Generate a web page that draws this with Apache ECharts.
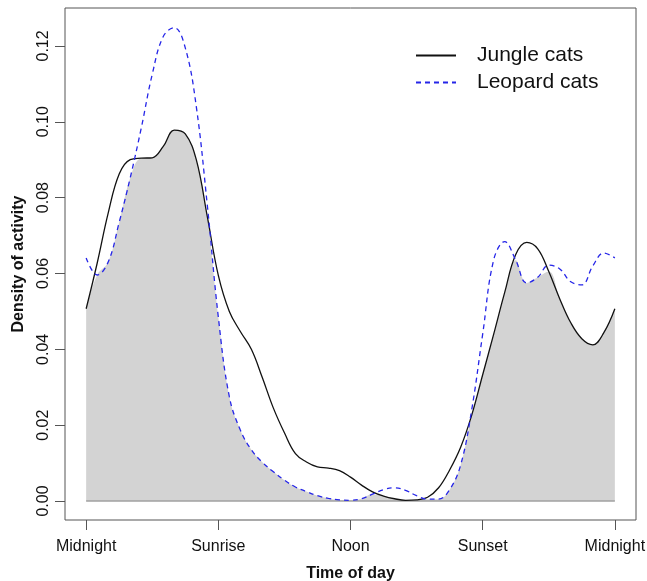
<!DOCTYPE html>
<html>
<head>
<meta charset="utf-8">
<script src="https://cdn.jsdelivr.net/npm/echarts@6/dist/echarts.min.js"></script>
<style>
html,body{margin:0;padding:0;background:#fff;}
#chart{width:647px;height:581px;}
</style>
</head>
<body>
<div id="chart"></div>
<script>
// Time of day in hours (0 = midnight, 24 = midnight)
const hours = [0,0.5,1,1.5,2,2.5,3,3.5,4,4.5,5,5.5,6,6.5,7,7.5,8,8.5,9,9.5,10,10.5,11,11.5,12,
  12.5,13,13.5,14,14.5,15,15.5,16,16.5,17,17.5,18,18.5,19,19.5,20,20.5,21,21.5,22,22.5,23,23.5,24];
const jungleCats = [0.0507,0.0627,0.0759,0.0862,0.0900,0.0904,0.0905,0.0935,0.0978,0.0968,0.0900,0.0750,0.0595,0.0500,0.0447,0.0400,0.0325,0.0245,0.0180,0.0125,0.0103,0.0090,0.0087,0.0080,0.0063,
  0.0042,0.0024,0.0013,0.0006,0.0002,0.0003,0.0010,0.0035,0.0082,0.0142,0.0226,0.0333,0.0440,0.0550,0.0650,0.0682,0.0665,0.0605,0.0533,0.0470,0.0428,0.0412,0.0444,0.0507];
const leopardCats = [0.0641,0.0596,0.0630,0.0735,0.0852,0.0983,0.1125,0.1225,0.1248,0.1195,0.1040,0.0780,0.0485,0.0275,0.0187,0.0135,0.0102,0.0077,0.0055,0.0037,0.0025,0.0014,0.0007,0.0003,0.0002,
  0.0006,0.0018,0.0030,0.0035,0.0028,0.0014,0.0005,0.0005,0.0030,0.0095,0.0240,0.0440,0.0636,0.0684,0.0635,0.0575,0.0590,0.0622,0.0612,0.0578,0.0570,0.0620,0.0654,0.0641];
const xTickValues = [0,6,12,18,24];
const xTickLabels = ['Midnight','Sunrise','Noon','Sunset','Midnight'];
const yTickValues = [0,0.02,0.04,0.06,0.08,0.10,0.12];

const overlap = hours.map((h,i)=>[h, Math.min(jungleCats[i], leopardCats[i])]);
const jData = hours.map((h,i)=>[h, jungleCats[i]]);
const lData = hours.map((h,i)=>[h, leopardCats[i]]);

const FONT = '"Liberation Sans", Arial, sans-serif';
const chart = echarts.init(document.getElementById('chart'), null, {renderer:'canvas'});
chart.setOption({
  backgroundColor:'#fff',
  animation:false,
  textStyle:{fontFamily:FONT},
  grid:{left:65,right:11,top:8,bottom:61,show:true,borderColor:'#555',borderWidth:1,backgroundColor:'transparent',
    outerBoundsMode:'none',containLabel:false},
  legend:{
    orient:'vertical', left:410, top:40, itemWidth:40, itemHeight:14, itemGap:6,
    data:['Jungle cats','Leopard cats'],
    itemStyle:{opacity:0},
    textStyle:{fontSize:21,color:'#111',fontFamily:FONT,padding:[0,0,0,16]}
  },
  xAxis:{
    type:'value', min:-0.96, max:24.96,
    splitLine:{show:false},
    axisLine:{show:false,onZero:false},
    axisTick:{show:true,length:10,lineStyle:{color:'#555'},customValues:xTickValues},
    axisLabel:{show:true,fontSize:16,color:'#111',margin:19,fontFamily:FONT,customValues:xTickValues,
      formatter:function(v){const i=xTickValues.indexOf(v);return i>=0?xTickLabels[i]:'';}},
    name:'Time of day', nameLocation:'middle', nameGap:46,
    nameTextStyle:{fontSize:16,fontWeight:'bold',color:'#111',fontFamily:FONT}
  },
  yAxis:{
    type:'value', min:-0.005, max:0.13,
    splitLine:{show:false},
    axisLine:{show:false,onZero:false},
    axisTick:{show:true,length:10,lineStyle:{color:'#555',width:1},customValues:yTickValues},
    axisLabel:{show:true,fontSize:16,color:'#111',margin:13,rotate:90,fontFamily:FONT,customValues:yTickValues,
      formatter:function(v){return v.toFixed(2);}},
    name:'Density of activity', nameLocation:'middle', nameGap:38,
    nameTextStyle:{fontSize:16,fontWeight:'bold',color:'#111',fontFamily:FONT}
  },
  series:[
    {name:'overlap',type:'line',data:overlap,smooth:0.4,symbol:'none',
      lineStyle:{width:0,opacity:0},areaStyle:{color:'#d3d3d3',opacity:1},z:1,silent:true},
    {name:'base',type:'line',data:[[0,0],[24,0]],symbol:'none',lineStyle:{color:'#a0a0a0',width:1.5},z:2,silent:true},
    {name:'Jungle cats',type:'line',data:jData,smooth:0.4,symbol:'none',
      lineStyle:{color:'#111',width:1.3,type:'solid'},itemStyle:{color:'#111'},z:3},
    {name:'Leopard cats',type:'line',data:lData,smooth:0.4,symbol:'none',
      lineStyle:{color:'#2525e8',width:1.3,type:[5,4]},itemStyle:{color:'#2525e8'},z:4}
  ]
});
</script>
</body>
</html>
